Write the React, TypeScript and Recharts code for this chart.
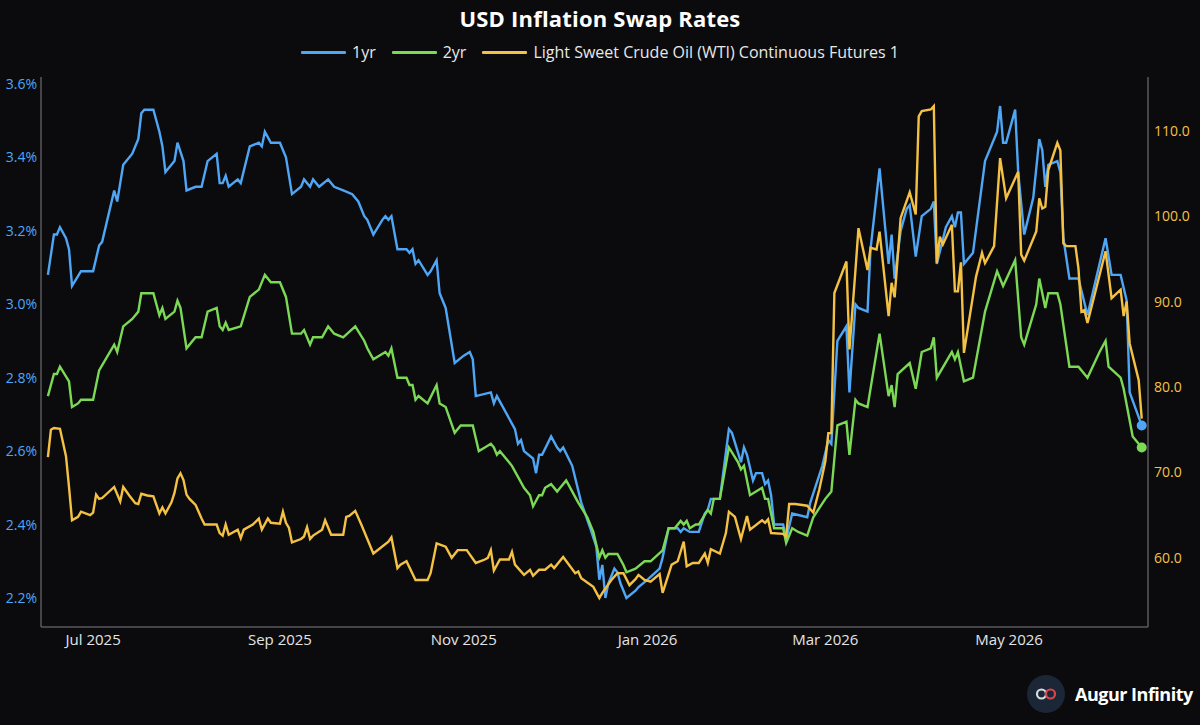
import { LineChart, Line, XAxis, YAxis, ReferenceDot } from "recharts";

const BG = "#0b0b0d";
const FRAME = "#5a5a5e";
const BLUE = "#4fa6f5";
const GREEN = "#7cd955";
const GOLD = "#f4c144";
const FONT = "'Open Sans', 'Noto Sans', sans-serif";

// 1yr USD inflation swap, %
const oneYr: [string, number][] = [
  ["2025-06-16", 3.08], ["2025-06-18", 3.19], ["2025-06-19", 3.19], ["2025-06-20", 3.21], ["2025-06-22", 3.18],
  ["2025-06-23", 3.15], ["2025-06-24", 3.05], ["2025-06-27", 3.09], ["2025-07-01", 3.09], ["2025-07-03", 3.16],
  ["2025-07-04", 3.17], ["2025-07-08", 3.31], ["2025-07-09", 3.28], ["2025-07-11", 3.38], ["2025-07-14", 3.41],
  ["2025-07-16", 3.45], ["2025-07-17", 3.52], ["2025-07-18", 3.53], ["2025-07-21", 3.53], ["2025-07-23", 3.47],
  ["2025-07-24", 3.43], ["2025-07-25", 3.36], ["2025-07-28", 3.39], ["2025-07-29", 3.44], ["2025-07-31", 3.39],
  ["2025-08-01", 3.31], ["2025-08-04", 3.32], ["2025-08-06", 3.32], ["2025-08-08", 3.39], ["2025-08-11", 3.41],
  ["2025-08-12", 3.33], ["2025-08-13", 3.33], ["2025-08-14", 3.35], ["2025-08-15", 3.32], ["2025-08-18", 3.34],
  ["2025-08-19", 3.33], ["2025-08-22", 3.43], ["2025-08-25", 3.44], ["2025-08-26", 3.43], ["2025-08-27", 3.47],
  ["2025-08-29", 3.44], ["2025-09-01", 3.44], ["2025-09-03", 3.40], ["2025-09-05", 3.30], ["2025-09-08", 3.32],
  ["2025-09-09", 3.34], ["2025-09-11", 3.32], ["2025-09-12", 3.34], ["2025-09-14", 3.32], ["2025-09-17", 3.34],
  ["2025-09-19", 3.32], ["2025-09-22", 3.31], ["2025-09-25", 3.30], ["2025-09-27", 3.28], ["2025-09-29", 3.24],
  ["2025-09-30", 3.23], ["2025-10-02", 3.19], ["2025-10-05", 3.23], ["2025-10-06", 3.24], ["2025-10-07", 3.23],
  ["2025-10-08", 3.24], ["2025-10-10", 3.15], ["2025-10-13", 3.15], ["2025-10-14", 3.14], ["2025-10-15", 3.15],
  ["2025-10-16", 3.11], ["2025-10-17", 3.12], ["2025-10-20", 3.08], ["2025-10-21", 3.09], ["2025-10-23", 3.12],
  ["2025-10-24", 3.03], ["2025-10-26", 2.99], ["2025-10-29", 2.84], ["2025-11-01", 2.86], ["2025-11-03", 2.87],
  ["2025-11-04", 2.85], ["2025-11-05", 2.75], ["2025-11-10", 2.76], ["2025-11-11", 2.73], ["2025-11-12", 2.75],
  ["2025-11-18", 2.66], ["2025-11-19", 2.62], ["2025-11-20", 2.63], ["2025-11-21", 2.60], ["2025-11-24", 2.58],
  ["2025-11-25", 2.54], ["2025-11-26", 2.59], ["2025-11-27", 2.59], ["2025-11-30", 2.64], ["2025-12-02", 2.61],
  ["2025-12-03", 2.60], ["2025-12-04", 2.61], ["2025-12-07", 2.56], ["2025-12-10", 2.46], ["2025-12-13", 2.39],
  ["2025-12-15", 2.34], ["2025-12-16", 2.25], ["2025-12-17", 2.29], ["2025-12-18", 2.20], ["2025-12-19", 2.24],
  ["2025-12-21", 2.28], ["2025-12-22", 2.27], ["2025-12-23", 2.24], ["2025-12-25", 2.20], ["2025-12-28", 2.22],
  ["2025-12-29", 2.23], ["2026-01-01", 2.25], ["2026-01-05", 2.28], ["2026-01-06", 2.31], ["2026-01-08", 2.39],
  ["2026-01-11", 2.39], ["2026-01-12", 2.38], ["2026-01-13", 2.39], ["2026-01-15", 2.38], ["2026-01-18", 2.38],
  ["2026-01-20", 2.43], ["2026-01-21", 2.44], ["2026-01-22", 2.47], ["2026-01-25", 2.47], ["2026-01-28", 2.66],
  ["2026-01-29", 2.65], ["2026-02-01", 2.57], ["2026-02-02", 2.61], ["2026-02-03", 2.59], ["2026-02-05", 2.52],
  ["2026-02-06", 2.54], ["2026-02-08", 2.54], ["2026-02-09", 2.51], ["2026-02-10", 2.52], ["2026-02-11", 2.48],
  ["2026-02-12", 2.40], ["2026-02-15", 2.40], ["2026-02-16", 2.36], ["2026-02-18", 2.43], ["2026-02-23", 2.42],
  ["2026-02-24", 2.46], ["2026-02-28", 2.56], ["2026-03-02", 2.63], ["2026-03-03", 2.62], ["2026-03-05", 2.90],
  ["2026-03-08", 2.94], ["2026-03-09", 2.76], ["2026-03-11", 3.00], ["2026-03-12", 2.99], ["2026-03-15", 2.98],
  ["2026-03-16", 3.15], ["2026-03-19", 3.37], ["2026-03-22", 3.11], ["2026-03-23", 3.19], ["2026-03-24", 3.07],
  ["2026-03-26", 3.20], ["2026-03-28", 3.26], ["2026-03-29", 3.27], ["2026-03-31", 3.13], ["2026-04-02", 3.24],
  ["2026-04-05", 3.26], ["2026-04-06", 3.28], ["2026-04-07", 3.11], ["2026-04-10", 3.21], ["2026-04-12", 3.24],
  ["2026-04-13", 3.21], ["2026-04-14", 3.25], ["2026-04-15", 3.25], ["2026-04-16", 3.11], ["2026-04-19", 3.14],
  ["2026-04-23", 3.39], ["2026-04-27", 3.47], ["2026-04-28", 3.54], ["2026-04-29", 3.44], ["2026-04-30", 3.44],
  ["2026-05-03", 3.53], ["2026-05-04", 3.36], ["2026-05-06", 3.19], ["2026-05-09", 3.29], ["2026-05-11", 3.45],
  ["2026-05-12", 3.42], ["2026-05-13", 3.32], ["2026-05-14", 3.38], ["2026-05-17", 3.39], ["2026-05-18", 3.36],
  ["2026-05-19", 3.18], ["2026-05-21", 3.07], ["2026-05-24", 3.07], ["2026-05-27", 2.97], ["2026-06-02", 3.18],
  ["2026-06-04", 3.08], ["2026-06-07", 3.08], ["2026-06-09", 3.01], ["2026-06-10", 2.76], ["2026-06-14", 2.67],
];

// 2yr USD inflation swap, %
const twoYr: [string, number][] = [
  ["2025-06-16", 2.75], ["2025-06-18", 2.81], ["2025-06-19", 2.81], ["2025-06-20", 2.83], ["2025-06-23", 2.79],
  ["2025-06-24", 2.72], ["2025-06-26", 2.73], ["2025-06-27", 2.74], ["2025-07-01", 2.74], ["2025-07-03", 2.82],
  ["2025-07-08", 2.89], ["2025-07-09", 2.87], ["2025-07-11", 2.94], ["2025-07-14", 2.96], ["2025-07-16", 2.98],
  ["2025-07-17", 3.03], ["2025-07-21", 3.03], ["2025-07-23", 2.97], ["2025-07-24", 2.99], ["2025-07-25", 2.96],
  ["2025-07-28", 2.98], ["2025-07-29", 3.01], ["2025-07-30", 2.99], ["2025-08-01", 2.88], ["2025-08-04", 2.91],
  ["2025-08-06", 2.91], ["2025-08-08", 2.98], ["2025-08-11", 2.99], ["2025-08-12", 2.94], ["2025-08-13", 2.93],
  ["2025-08-14", 2.95], ["2025-08-15", 2.93], ["2025-08-19", 2.94], ["2025-08-22", 3.02], ["2025-08-25", 3.04],
  ["2025-08-27", 3.08], ["2025-08-29", 3.06], ["2025-09-01", 3.06], ["2025-09-03", 3.02], ["2025-09-05", 2.92],
  ["2025-09-08", 2.92], ["2025-09-09", 2.93], ["2025-09-11", 2.89], ["2025-09-12", 2.91], ["2025-09-15", 2.91],
  ["2025-09-17", 2.94], ["2025-09-19", 2.92], ["2025-09-22", 2.91], ["2025-09-26", 2.94], ["2025-09-29", 2.90],
  ["2025-09-30", 2.88], ["2025-10-02", 2.85], ["2025-10-06", 2.87], ["2025-10-07", 2.86], ["2025-10-08", 2.88],
  ["2025-10-10", 2.80], ["2025-10-13", 2.80], ["2025-10-14", 2.78], ["2025-10-15", 2.78], ["2025-10-16", 2.74],
  ["2025-10-17", 2.75], ["2025-10-20", 2.73], ["2025-10-23", 2.78], ["2025-10-24", 2.73], ["2025-10-26", 2.72],
  ["2025-10-29", 2.65], ["2025-10-31", 2.67], ["2025-11-03", 2.67], ["2025-11-04", 2.67], ["2025-11-06", 2.60],
  ["2025-11-08", 2.61], ["2025-11-10", 2.62], ["2025-11-11", 2.61], ["2025-11-12", 2.59], ["2025-11-13", 2.60],
  ["2025-11-17", 2.56], ["2025-11-21", 2.50], ["2025-11-23", 2.48], ["2025-11-24", 2.45], ["2025-11-26", 2.48],
  ["2025-11-27", 2.48], ["2025-11-28", 2.50], ["2025-11-30", 2.51], ["2025-12-02", 2.49], ["2025-12-03", 2.50],
  ["2025-12-05", 2.52], ["2025-12-09", 2.46], ["2025-12-12", 2.42], ["2025-12-14", 2.38], ["2025-12-16", 2.31],
  ["2025-12-17", 2.33], ["2025-12-18", 2.31], ["2025-12-19", 2.32], ["2025-12-22", 2.32], ["2025-12-24", 2.29],
  ["2025-12-25", 2.27], ["2025-12-28", 2.28], ["2025-12-31", 2.30], ["2026-01-02", 2.30], ["2026-01-06", 2.33],
  ["2026-01-08", 2.39], ["2026-01-10", 2.39], ["2026-01-12", 2.41], ["2026-01-13", 2.40], ["2026-01-14", 2.41],
  ["2026-01-15", 2.39], ["2026-01-17", 2.40], ["2026-01-18", 2.40], ["2026-01-21", 2.44], ["2026-01-22", 2.43],
  ["2026-01-23", 2.47], ["2026-01-25", 2.47], ["2026-01-28", 2.61], ["2026-01-31", 2.57], ["2026-02-01", 2.55],
  ["2026-02-02", 2.56], ["2026-02-04", 2.48], ["2026-02-06", 2.49], ["2026-02-08", 2.50], ["2026-02-09", 2.47],
  ["2026-02-10", 2.47], ["2026-02-12", 2.39], ["2026-02-15", 2.39], ["2026-02-16", 2.35], ["2026-02-18", 2.39],
  ["2026-02-20", 2.38], ["2026-02-23", 2.37], ["2026-02-25", 2.42], ["2026-03-01", 2.47], ["2026-03-03", 2.49],
  ["2026-03-05", 2.67], ["2026-03-08", 2.68], ["2026-03-09", 2.59], ["2026-03-11", 2.74], ["2026-03-12", 2.73],
  ["2026-03-15", 2.72], ["2026-03-19", 2.92], ["2026-03-22", 2.75], ["2026-03-23", 2.78], ["2026-03-24", 2.72],
  ["2026-03-25", 2.81], ["2026-03-29", 2.84], ["2026-03-31", 2.77], ["2026-04-02", 2.87], ["2026-04-05", 2.88],
  ["2026-04-06", 2.91], ["2026-04-07", 2.80], ["2026-04-12", 2.87], ["2026-04-13", 2.85], ["2026-04-14", 2.87],
  ["2026-04-16", 2.79], ["2026-04-19", 2.80], ["2026-04-23", 2.98], ["2026-04-27", 3.09], ["2026-04-29", 3.05],
  ["2026-05-03", 3.12], ["2026-05-05", 2.91], ["2026-05-06", 2.89], ["2026-05-10", 3.00], ["2026-05-11", 3.07],
  ["2026-05-13", 2.99], ["2026-05-14", 3.03], ["2026-05-17", 3.03], ["2026-05-18", 3.00], ["2026-05-21", 2.83],
  ["2026-05-24", 2.83], ["2026-05-27", 2.80], ["2026-05-31", 2.87], ["2026-06-02", 2.90], ["2026-06-03", 2.83],
  ["2026-06-07", 2.80], ["2026-06-08", 2.77], ["2026-06-11", 2.64], ["2026-06-14", 2.61],
];

// WTI continuous front-month futures, USD
const wti: [string, number][] = [
  ["2025-06-16", 71.8], ["2025-06-17", 75.0], ["2025-06-18", 75.2], ["2025-06-20", 75.1], ["2025-06-22", 71.9],
  ["2025-06-23", 68.3], ["2025-06-24", 64.4], ["2025-06-26", 64.8], ["2025-06-27", 65.4], ["2025-06-30", 65.0],
  ["2025-07-01", 65.3], ["2025-07-02", 67.4], ["2025-07-03", 66.9], ["2025-07-04", 67.0], ["2025-07-08", 68.3],
  ["2025-07-10", 66.6], ["2025-07-11", 68.3], ["2025-07-13", 67.3], ["2025-07-15", 66.4], ["2025-07-16", 66.3],
  ["2025-07-17", 67.5], ["2025-07-19", 67.3], ["2025-07-21", 67.2], ["2025-07-23", 65.2], ["2025-07-24", 65.9],
  ["2025-07-25", 65.2], ["2025-07-27", 66.5], ["2025-07-28", 67.6], ["2025-07-29", 69.3], ["2025-07-30", 69.9],
  ["2025-07-31", 69.1], ["2025-08-01", 67.4], ["2025-08-02", 66.9], ["2025-08-04", 66.2], ["2025-08-06", 64.6],
  ["2025-08-07", 63.9], ["2025-08-11", 63.9], ["2025-08-12", 62.9], ["2025-08-13", 62.6], ["2025-08-14", 63.9],
  ["2025-08-15", 62.7], ["2025-08-18", 63.3], ["2025-08-19", 62.3], ["2025-08-20", 63.3], ["2025-08-23", 63.9],
  ["2025-08-25", 64.6], ["2025-08-26", 63.3], ["2025-08-28", 64.6], ["2025-08-29", 64.1], ["2025-09-01", 64.0],
  ["2025-09-02", 65.4], ["2025-09-03", 64.1], ["2025-09-04", 63.5], ["2025-09-05", 61.8], ["2025-09-08", 62.2],
  ["2025-09-09", 62.5], ["2025-09-10", 63.6], ["2025-09-11", 62.2], ["2025-09-12", 62.6], ["2025-09-15", 63.3],
  ["2025-09-16", 64.4], ["2025-09-18", 62.7], ["2025-09-22", 62.7], ["2025-09-23", 64.8], ["2025-09-24", 64.9],
  ["2025-09-26", 65.5], ["2025-09-28", 63.9], ["2025-10-02", 60.5], ["2025-10-07", 61.9], ["2025-10-08", 62.4],
  ["2025-10-10", 58.8], ["2025-10-11", 59.2], ["2025-10-13", 59.6], ["2025-10-16", 57.4], ["2025-10-20", 57.4],
  ["2025-10-21", 58.2], ["2025-10-23", 61.7], ["2025-10-26", 61.3], ["2025-10-28", 60.0], ["2025-10-30", 60.9],
  ["2025-11-02", 60.9], ["2025-11-05", 59.4], ["2025-11-08", 59.8], ["2025-11-09", 60.0], ["2025-11-10", 60.9],
  ["2025-11-11", 58.5], ["2025-11-13", 59.8], ["2025-11-16", 59.8], ["2025-11-17", 60.7], ["2025-11-18", 59.2],
  ["2025-11-21", 58.0], ["2025-11-23", 58.6], ["2025-11-24", 57.9], ["2025-11-26", 58.6], ["2025-11-28", 58.6],
  ["2025-11-30", 59.2], ["2025-12-01", 58.8], ["2025-12-04", 60.1], ["2025-12-08", 58.2], ["2025-12-09", 58.4],
  ["2025-12-10", 57.6], ["2025-12-14", 56.6], ["2025-12-16", 55.3], ["2025-12-17", 55.9], ["2025-12-20", 57.4],
  ["2025-12-22", 58.2], ["2025-12-24", 58.2], ["2025-12-26", 56.8], ["2025-12-28", 57.5], ["2025-12-29", 58.0],
  ["2025-12-31", 57.4], ["2026-01-02", 57.2], ["2026-01-05", 58.1], ["2026-01-06", 55.9], ["2026-01-09", 59.2],
  ["2026-01-11", 59.6], ["2026-01-13", 61.9], ["2026-01-14", 59.0], ["2026-01-16", 59.4], ["2026-01-18", 59.4],
  ["2026-01-20", 60.5], ["2026-01-21", 59.4], ["2026-01-22", 61.0], ["2026-01-25", 60.5], ["2026-01-27", 62.9],
  ["2026-01-28", 65.4], ["2026-01-30", 64.8], ["2026-02-01", 62.2], ["2026-02-03", 64.9], ["2026-02-04", 63.3],
  ["2026-02-08", 64.4], ["2026-02-09", 64.1], ["2026-02-10", 64.5], ["2026-02-11", 62.9], ["2026-02-15", 62.8],
  ["2026-02-16", 62.5], ["2026-02-17", 66.3], ["2026-02-19", 66.3], ["2026-02-23", 66.1], ["2026-02-25", 65.3],
  ["2026-02-27", 68.0], ["2026-03-01", 71.3], ["2026-03-02", 74.6], ["2026-03-03", 74.6], ["2026-03-04", 91.0],
  ["2026-03-08", 94.7], ["2026-03-09", 84.4], ["2026-03-11", 93.7], ["2026-03-12", 98.6], ["2026-03-15", 93.7],
  ["2026-03-16", 96.3], ["2026-03-18", 96.1], ["2026-03-19", 98.2], ["2026-03-22", 88.3], ["2026-03-23", 92.2],
  ["2026-03-24", 90.5], ["2026-03-26", 99.8], ["2026-03-29", 102.8], ["2026-03-31", 100.2], ["2026-04-01", 111.7],
  ["2026-04-02", 112.3], ["2026-04-05", 112.5], ["2026-04-06", 112.9], ["2026-04-07", 94.5], ["2026-04-08", 97.6],
  ["2026-04-09", 96.7], ["2026-04-12", 99.0], ["2026-04-13", 91.2], ["2026-04-14", 91.2], ["2026-04-15", 94.6],
  ["2026-04-16", 84.0], ["2026-04-20", 92.9], ["2026-04-22", 95.7], ["2026-04-23", 94.5], ["2026-04-26", 96.5],
  ["2026-04-28", 106.8], ["2026-04-30", 102.1], ["2026-05-04", 105.2], ["2026-05-05", 95.5], ["2026-05-06", 94.8],
  ["2026-05-10", 98.2], ["2026-05-11", 102.1], ["2026-05-12", 100.9], ["2026-05-13", 101.1], ["2026-05-14", 105.4],
  ["2026-05-17", 108.6], ["2026-05-18", 107.7], ["2026-05-19", 96.8], ["2026-05-20", 96.5], ["2026-05-23", 96.5],
  ["2026-05-24", 93.9], ["2026-05-25", 88.8], ["2026-05-26", 89.0], ["2026-05-27", 87.5], ["2026-06-02", 95.9],
  ["2026-06-04", 90.4], ["2026-06-07", 91.4], ["2026-06-08", 88.3], ["2026-06-09", 90.0], ["2026-06-10", 85.1],
  ["2026-06-13", 80.8], ["2026-06-14", 76.3],
];

const xTickDates = ["2025-07-01", "2025-09-01", "2025-11-01", "2026-01-01", "2026-03-01", "2026-05-01"];
const leftTicks = [2.2, 2.4, 2.6, 2.8, 3.0, 3.2, 3.4, 3.6];
const rightTicks = [60, 70, 80, 90, 100, 110];
const MONTHS = ["Jan", "Feb", "Mar", "Apr", "May", "Jun", "Jul", "Aug", "Sep", "Oct", "Nov", "Dec"];

const ts = (s: string) => Date.UTC(+s.slice(0, 4), +s.slice(5, 7) - 1, +s.slice(8, 10));

// merge the three series into one table keyed by date
const byDate = new Map<number, any>();
const put = (rows: [string, number][], key: string) => {
  rows.forEach(([d, v]) => {
    const t = ts(d);
    const row = byDate.get(t) || { t };
    row[key] = v;
    byDate.set(t, row);
  });
};
put(oneYr, "y1");
put(twoYr, "y2");
put(wti, "wti");
const data = Array.from(byDate.values()).sort((a, b) => a.t - b.t);

const X0 = Date.UTC(2025, 5, 13, 17);
const X1 = Date.UTC(2026, 5, 16, 2);
const fmtMonth = (t: number) => {
  const d = new Date(t);
  return `${MONTHS[d.getUTCMonth()]} ${d.getUTCFullYear()}`;
};

const last1 = oneYr[oneYr.length - 1];
const last2 = twoYr[twoYr.length - 1];

const legendItems = [
  { name: "1yr", color: BLUE },
  { name: "2yr", color: GREEN },
  { name: "Light Sweet Crude Oil (WTI) Continuous Futures 1", color: GOLD },
];

export default function App() {
  return (
    <div style={{ position: "relative", width: 1200, height: 725, background: BG, fontFamily: FONT, overflow: "hidden" }}>
      <style>{`body{margin:0;background:${BG}}`}</style>
      <div style={{ position: "absolute", top: 3, left: 0, width: 1200, textAlign: "center", color: "#fff", fontSize: 22, fontWeight: 700, letterSpacing: 0.2 }}>
        USD Inflation Swap Rates
      </div>
      <div style={{ position: "absolute", top: 41, left: 0, width: 1200, display: "flex", justifyContent: "center", gap: 16, color: "#e8e8e8", fontSize: 16 }}>
        {legendItems.map((it) => (
          <div key={it.name} style={{ display: "flex", alignItems: "center", gap: 6 }}>
            <span style={{ display: "inline-block", width: 45, height: 3, background: it.color, borderRadius: 1 }} />
            <span>{it.name}</span>
          </div>
        ))}
      </div>

      <LineChart width={1200} height={725} data={data} margin={{ top: 77, right: 0, bottom: 68, left: 0 }}>
        <XAxis
          dataKey="t"
          type="number"
          domain={[X0, X1]}
          allowDataOverflow
          ticks={xTickDates.map(ts)}
          tickFormatter={fmtMonth}
          axisLine={{ stroke: FRAME, strokeWidth: 1.5 }}
          tickLine={false}
          tickSize={0}
          tickMargin={7}
          tick={{ fill: "#e4e4e4", fontSize: 15, fontFamily: FONT }}
          height={30}
        />
        <XAxis xAxisId="top" orientation="top" dataKey="t" type="number" domain={[X0, X1]} allowDataOverflow
          tick={false} tickLine={false} axisLine={{ stroke: FRAME, strokeWidth: 1.5 }} height={0} />
        <YAxis
          yAxisId="left"
          type="number"
          domain={[2.121, 3.619]}
          allowDataOverflow
          ticks={leftTicks}
          tickFormatter={(v: number) => `${v.toFixed(1)}%`}
          axisLine={{ stroke: FRAME, strokeWidth: 1.5 }}
          tickLine={false}
          tickSize={0}
          tickMargin={4}
          tick={{ fill: BLUE, fontSize: 14, fontFamily: FONT }}
          width={41}
        />
        <YAxis
          yAxisId="right"
          orientation="right"
          type="number"
          domain={[51.9, 116.3]}
          allowDataOverflow
          ticks={rightTicks}
          tickFormatter={(v: number) => v.toFixed(1)}
          axisLine={{ stroke: FRAME, strokeWidth: 1.5 }}
          tickLine={false}
          tickSize={0}
          tickMargin={6}
          tick={{ fill: GOLD, fontSize: 14, fontFamily: FONT }}
          width={52}
        />
        <Line yAxisId="left" dataKey="y1" stroke={BLUE} strokeWidth={2.4} dot={false} connectNulls isAnimationActive={false} />
        <Line yAxisId="left" dataKey="y2" stroke={GREEN} strokeWidth={2.4} dot={false} connectNulls isAnimationActive={false} />
        <Line yAxisId="right" dataKey="wti" stroke={GOLD} strokeWidth={2.4} dot={false} connectNulls isAnimationActive={false} />
        <ReferenceDot yAxisId="left" x={ts(last1[0])} y={last1[1]} r={5} fill={BLUE} stroke="none" />
        <ReferenceDot yAxisId="left" x={ts(last2[0])} y={last2[1]} r={5} fill={GREEN} stroke="none" />
      </LineChart>

      <div style={{ position: "absolute", left: 1027, top: 675, display: "flex", alignItems: "center", gap: 10 }}>
        <svg width={38} height={38} viewBox="0 0 38 38">
          <circle cx={19} cy={19} r={19} fill="#1b2736" />
          <circle cx={14.5} cy={19} r={4.5} fill="none" stroke="#d8dde4" strokeWidth={2.2} />
          <circle cx={23.5} cy={19} r={4.5} fill="none" stroke="#d9454c" strokeWidth={2.2} />
        </svg>
        <span style={{ color: "#fff", fontSize: 18, fontWeight: 700, letterSpacing: -0.5 }}>Augur Infinity</span>
      </div>
    </div>
  );
}
